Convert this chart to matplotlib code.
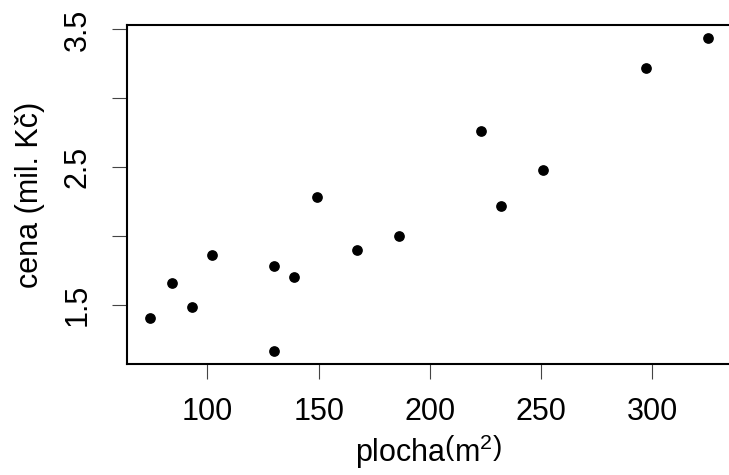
import matplotlib
matplotlib.use('Agg')
import matplotlib.pyplot as plt

plt.rcParams['font.family'] = ['Liberation Sans', 'DejaVu Sans']
plt.rcParams['mathtext.fontset'] = 'custom'
plt.rcParams['mathtext.rm'] = 'Liberation Sans'
plt.rcParams['mathtext.it'] = 'Liberation Sans:italic'

# plocha (m2) a cena (mil. Kc)
plocha = [74, 84, 93, 102, 130, 130, 139, 149, 167, 186, 223, 232, 251, 297, 325]
cena = [1.40, 1.66, 1.48, 1.86, 1.78, 1.16, 1.70, 2.28, 1.90, 2.00, 2.76, 2.22, 2.48, 3.22, 3.44]

xticks = [100, 150, 200, 250, 300]
yticks = [1.5, 2.0, 2.5, 3.0, 3.5]
ylabels = ['1.5', '', '2.5', '', '3.5']

fig = plt.figure(figsize=(7.29, 4.75), dpi=100)
ax = fig.add_axes([0.1746, 0.2337, 0.8274, 0.7133])
ax.plot(plocha, cena, 'o', color='black', markersize=6.7)
ax.margins(x=0.04, y=0.04)

ax.set_xticks(xticks)
ax.set_yticks(yticks)
ax.set_yticklabels(ylabels, rotation=90, va='center')
ax.tick_params(direction='out', length=11, width=0.8, color='#444444', labelsize=22)
ax.tick_params(axis='x', pad=13)
ax.tick_params(axis='y', pad=14)
for s in ax.spines.values():
    s.set_linewidth(1.5)

ax.set_xlabel(r'plocha$\left(\mathrm{m}^{2}\right)$', fontsize=22, labelpad=4)
ax.set_ylabel('cena (mil. Kč)', fontsize=22, labelpad=13)

fig.savefig('out.png', dpi=100)
